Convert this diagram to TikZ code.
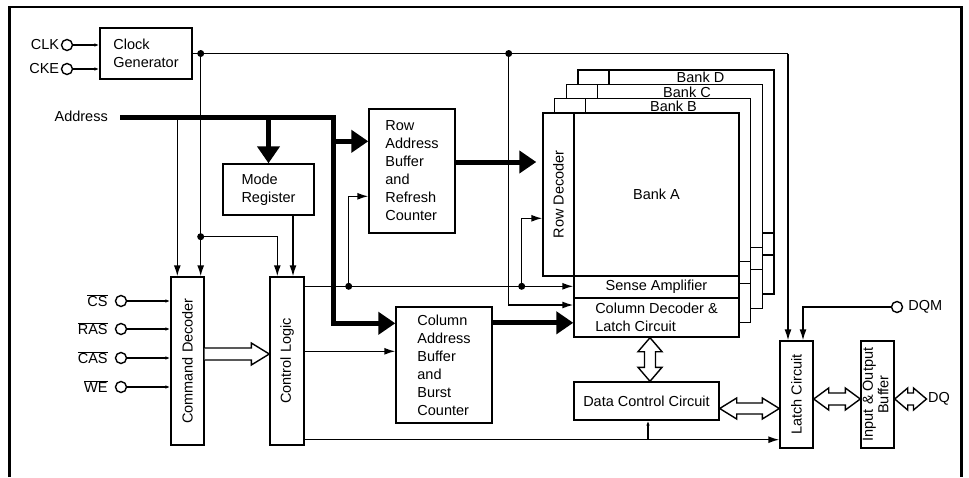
\documentclass[tikz,border=0pt]{standalone}
\usepackage{fontspec}
\setmainfont{Liberation Sans}
\usepackage{graphicx}
\usetikzlibrary{arrows.meta,calc}

% wide hollow arrows: start, end, half shaft, half head, head length
\newcommand\dualh[5]{\draw[hollow] (#1) -- ++(#5,-#4) -- ++(0,#4-#3) -- ($(#2)+(-#5,-#3)$) -- ++(0,#3-#4) -- (#2) -- ++(-#5,#4) -- ++(0,#3-#4) -- ($(#1)+(#5,#3)$) -- ++(0,#4-#3) -- cycle;}
\newcommand\dualv[5]{\draw[hollow] (#1) -- ++(#4,#5) -- ++(#3-#4,0) -- ($(#2)+(#3,-#5)$) -- ++(#4-#3,0) -- (#2) -- ++(-#4,-#5) -- ++(#4-#3,0) -- ($(#1)+(-#3,#5)$) -- ++(#3-#4,0) -- cycle;}
\newcommand\oneh[5]{\draw[hollow] ($(#1)+(0,-#3)$) -- ($(#2)+(-#5,-#3)$) -- ++(0,#3-#4) -- (#2) -- ++(-#5,#4) -- ++(0,#3-#4) -- ($(#1)+(0,#3)$);}

\begin{document}
\begin{tikzpicture}[x=1pt,y=-1pt,
  font=\fontsize{14.5}{18}\selectfont,
  box/.style={draw,line width=1.4pt,fill=white,inner sep=0pt,align=left},
  pad/.style={draw,circle,line width=1.4pt,minimum size=11pt,inner sep=0pt},
  wire/.style={line width=1.4pt},
  sig/.style={wire,-{Latex[length=5pt,width=3.5pt]}},
  ctl/.style={wire,-{Latex[length=11pt,width=7pt]}},
  bus/.style={line width=5pt},
  busarr/.style={bus,-{Triangle[length=17pt,width=22pt]}},
  hollow/.style={line width=1.4pt,fill=white},
  dot/.style={circle,fill,inner sep=0pt,minimum size=7pt}
]
\useasboundingbox (0,0) rectangle (969,477);
\draw[line width=2.5pt] (9.3,477) |- (961.7,7) -- (961.7,477);

% banks D, C, B behind bank A
\foreach \i/\nm in {3/D,2/C,1/B}{
  \begin{scope}[shift={({11.7*\i},{-14.3*\i})}]
    \draw[wire,fill=white] (543,113) -- (739,113) -- (739,337) -- (574,337) -- (574,276) -- (543,276) -- cycle;
    \draw[wire] (574,113) -- (574,276) -- (739,276) (574,298) -- (739,298);
    \node[inner sep=0pt] (bank\nm) at ({660+1.8*\i},120.5) {Bank \nm};
  \end{scope}
}

% blocks
\node[box,minimum width=92pt,minimum height=51pt] (clkgen) at (146,53.5) {Clock\\Generator};
\node[box,minimum width=91pt,minimum height=51pt] (mode) at (268.5,189.5) {Mode\\Register};
\node[box,minimum width=86pt,minimum height=124pt] (rowbuf) at (412,171) {Row\\Address\\Buffer\\and\\Refresh\\Counter};
\node[box,minimum width=96pt,minimum height=116pt] (colbuf) at (444,365) {Column\\Address\\Buffer\\and\\Burst\\Counter};
\node[box,minimum width=33pt,minimum height=168pt] (cmddec) at (187.5,361) {\rotatebox{90}{Command Decoder}};
\node[box,minimum width=34pt,minimum height=168pt] (ctrl) at (287,361) {\rotatebox{90}{Control Logic}};
\node[box,minimum width=31pt,minimum height=163pt] (rowdec) at (558.5,194.5) {\rotatebox{90}{Row Decoder}};
\node[box,minimum width=165pt,minimum height=163pt] (arrA) at (656.5,194.5) {Bank A};
\node[box,minimum width=165pt,minimum height=22pt] (sense) at (656.5,287) {Sense Amplifier};
\node[box,minimum width=165pt,minimum height=39pt] (coldec) at (656.5,317.5) {Column Decoder \&\\Latch Circuit};
\node[box,minimum width=145pt,minimum height=38pt] (datactl) at (646.5,401) {Data Control Circuit};
\node[box,minimum width=33pt,minimum height=107pt] (latch) at (796.5,394.5) {\rotatebox{90}{Latch Circuit}};
\node[box,minimum width=33pt,minimum height=107pt] (iobuf) at (877.5,394.5)
  {\rotatebox{90}{\fontsize{14.5}{15.5}\selectfont\begin{tabular}{@{}c@{}}Input \& Output\\Buffer\end{tabular}}};

% pins
\node[pad,label={[inner sep=0pt,xshift=-1.5pt]left:CLK}] (clk) at (67,45) {};
\node[pad,label={[inner sep=0pt,xshift=-1.5pt]left:CKE}] (cke) at (67,69) {};
\node[pad,label={[inner sep=0pt,xshift=-7pt]left:$\overline{\mbox{CS}}$}] (cs) at (121,301) {};
\node[pad,label={[inner sep=0pt,xshift=-7pt]left:$\overline{\mbox{RAS}}$}] (ras) at (121,329) {};
\node[pad,label={[inner sep=0pt,xshift=-7pt]left:$\overline{\mbox{CAS}}$}] (cas) at (121,358) {};
\node[pad,label={[inner sep=0pt,xshift=-7pt]left:$\overline{\mbox{WE}}$}] (we) at (121,387) {};
\node[pad,label={[inner sep=0pt,xshift=5pt]right:DQM}] (dqm) at (897,307) {};
\node[inner sep=0pt,anchor=east] (addr) at (108,116) {Address};
\node[inner sep=0pt,anchor=west] (dq) at (928,399) {DQ};

\draw[sig] (clk) -- (clk -| clkgen.west);
\draw[sig] (cke) -- (cke -| clkgen.west);
\foreach \p in {cs,ras,cas,we}
  \draw[sig] (\p) -- (\p -| cmddec.west);

% clock lines
\coordinate (ck1) at ($(clkgen.east)+(8,0)$);
\coordinate (ck2) at ($(clkgen.east)+(316,0)$);
\coordinate (ck3) at ($(clkgen.east -| latch.north)+(-8.5,0)$);
\coordinate (ck4) at ($(ck1 |- mode.south)+(0,21)$);
\draw[wire] (clkgen.east) -- (ck3);
\draw[ctl] (ck3) -- (ck3 |- latch.north);
\draw[ctl] (ck1) -- (ck1 |- cmddec.north);
\draw[ctl] (ck4) -| ($(ctrl.north west)+(8,0)$);
\draw[ctl] ($(mode.south)+(24.5,0)$) -- ($(ctrl.north)+(6,0)$);
\draw[ctl] (ck2) |- ($(coldec.west)+(0,-12.5)$);

% address bus
\coordinate (a0) at ($(addr.east)+(12,1)$);
\coordinate (a1) at ($(a0)+(213,0)$);
\coordinate (rb) at ($(rowbuf.north west)+(0,33)$);
\coordinate (cd0) at ($(cmddec.north west)+(7,0)$);
\draw[busarr] (a0) -- (a1) |- ($(colbuf.north west)+(0,17)$);
\draw[busarr] (a1 |- rb) -- (rb);
\draw[busarr] (mode.north |- a0) -- (mode.north);
\draw[ctl] (cd0 |- a0) -- (cd0);
\coordinate (rb2) at ($(rowbuf.east)+(0,-9)$);
\draw[busarr,shorten >=6pt] (rb2) -- (rb2 -| rowdec.west);
\coordinate (cb2) at ($(colbuf.north east)+(0,16.5)$);
\draw[busarr] (cb2) -- (cb2 -| coldec.west);

% control logic outputs
\coordinate (o1) at ($(ctrl.north east)+(0,10)$);
\coordinate (j1) at ($(o1)+(44,0)$);
\coordinate (j2) at ($(o1)+(217,0)$);
\draw[ctl] (o1) -- (o1 -| sense.west);
\draw[ctl] (j1) |- ($(rowbuf.north west)+(0,88)$);
\draw[ctl] (j2) |- ($(rowdec.north west)+(0,106)$);
\coordinate (o2) at ($(colbuf.north west)+(0,45)$);
\draw[ctl] (o2 -| ctrl.east) -- (o2);
\coordinate (o3) at ($(ctrl.south east)+(0,-6)$);
\coordinate (j3) at ($(o3 -| datactl.south)+(1.5,0)$);
\draw[ctl] (o3) -- (o3 -| latch.west);
\draw[sig] (j3) -- (j3 |- datactl.south);
\draw[ctl] (dqm) -| ($(latch.north)+(6.5,0)$);

\foreach \d in {ck1,ck2,ck4,j1,j2}
  \node[dot] at (\d) {};

% data paths
\coordinate (w1) at ($(cmddec.east)+(0,-7)$);
\coordinate (w2) at (w1 -| ctrl.west);
\oneh{w1}{w2}{6}{11}{18}
\coordinate (w3) at ($(coldec.south)+(-6.5,0)$);
\coordinate (w4) at (w3 |- datactl.north);
\dualv{w3}{w4}{5.5}{12}{14}
\coordinate (w5) at ($(datactl.east)+(0,7.5)$);
\coordinate (w6) at (w5 -| latch.west);
\dualh{w5}{w6}{5.5}{10.5}{17}
\coordinate (w7) at ($(latch.east)+(0,4.5)$);
\coordinate (w8) at (w7 -| iobuf.west);
\dualh{w7}{w8}{6}{11}{15}
\coordinate (w9) at ($(iobuf.east)+(0,4.5)$);
\coordinate (w10) at ($(w9 -| dq.west)+(-1.5,0)$);
\dualh{w9}{w10}{6}{11}{13}
\end{tikzpicture}
\end{document}
